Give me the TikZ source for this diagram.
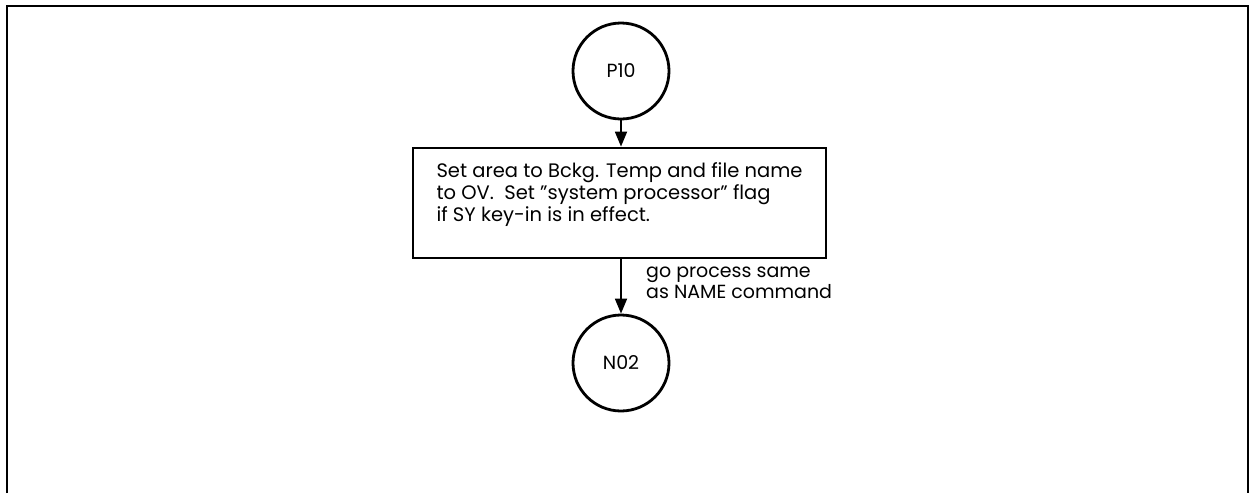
\documentclass[tikz,border=0pt]{standalone}
\usepackage{fontspec}
\setmainfont{Poppins}
\usetikzlibrary{arrows.meta}
\begin{document}
\begin{tikzpicture}[x=1pt,y=-1pt,
  conn/.style={circle,draw,line width=2.8pt,minimum size=96pt,inner sep=0pt,font=\fontsize{19}{22}\selectfont},
  procbox/.style={draw,line width=2.8pt,minimum width=413pt,minimum height=110pt,inner xsep=12pt,align=left,font=\fontsize{19.5}{22}\selectfont},
  flow/.style={line width=1.8pt,-{Triangle[length=15pt,width=12pt]}},
  note/.style={anchor=west,align=left,inner sep=0pt,font=\fontsize{19}{21}\selectfont}]
\useasboundingbox (0,0) rectangle (1258,493);
\draw[line width=2.6pt] (7,493) -- (7,6) -- (1248,6) -- (1248,493);
\node[conn] (p10) at (621,71) {P10};
\node[procbox] (box) at (619.5,203) {Set area to Bckg. Temp and file name\\to OV.\ \ Set \symbol{34}system processor\symbol{34} flag\\if SY key-in is in effect.\\\mbox{}};
\node[conn] (n02) at (621,363) {N02};
\draw[flow] (p10) -- (p10 |- box.north);
\draw[flow] (box.south -| n02) -- (n02);
\node[note] (lbl) at (646,283) {go process same\\as NAME command};
\end{tikzpicture}
\end{document}
